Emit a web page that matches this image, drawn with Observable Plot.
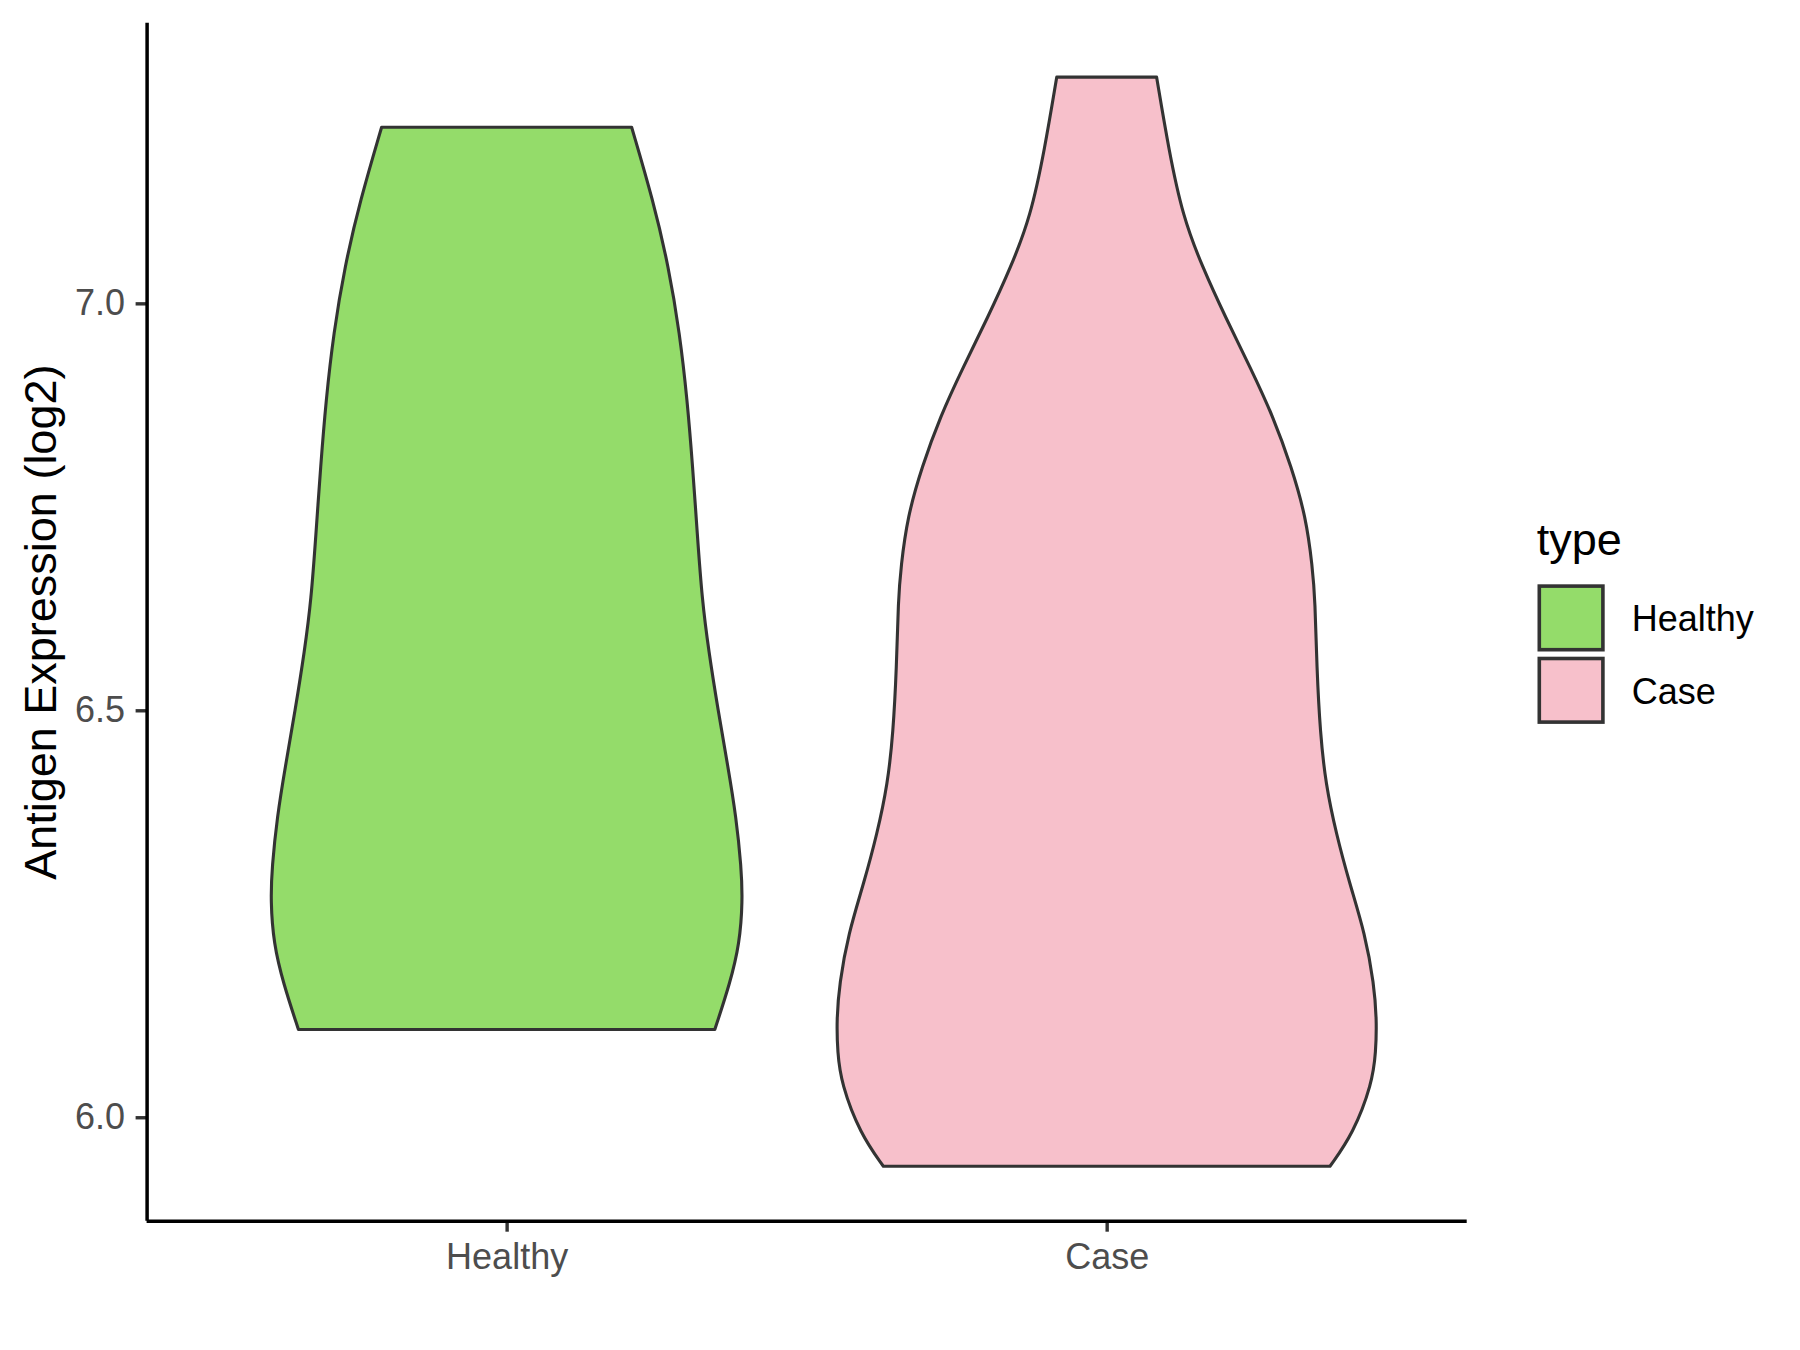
<!DOCTYPE html>
<html>
<head>
<meta charset="utf-8">
<script src="https://cdn.jsdelivr.net/npm/d3@7"></script>
<script src="https://cdn.jsdelivr.net/npm/@observablehq/plot@0.6"></script>
<style>
  body { margin: 0; background: #ffffff; }
  #chart { position: relative; width: 1800px; height: 1350px; font-family: "Liberation Sans", Arial, sans-serif; }
  #legend { position: absolute; left: 1520px; top: 500px; }
</style>
</head>
<body>
<div id="chart"></div>
<script>
// Groups and their fill colours
const types = ["Healthy", "Case"];
const fills = ["#94DC6A", "#F7C0CB"];

// Violin outlines: expression values (log2) and scaled density (1 = widest violin)
const healthyValues  = [7.2164, 7.127, 7.045, 6.9631, 6.8811, 6.7991, 6.7172, 6.6352, 6.5737, 6.5, 6.4302, 6.3688, 6.3073, 6.2663, 6.2135, 6.1643, 6.1078];
const healthyDensity = [0.463, 0.542, 0.600, 0.641, 0.669, 0.689, 0.706, 0.724, 0.748, 0.783, 0.820, 0.850, 0.869, 0.874, 0.863, 0.827, 0.771];

const caseValues  = [7.2779, 7.1885, 7.1065, 7.045, 6.9835, 6.922, 6.8606, 6.7991, 6.7376, 6.6762, 6.6352, 6.5532, 6.4713, 6.4098, 6.3483, 6.2869, 6.2254, 6.1639, 6.12, 6.08, 6.0414, 5.9799, 5.9398];
const caseDensity = [0.185, 0.230, 0.282, 0.354, 0.439, 0.531, 0.617, 0.684, 0.738, 0.762, 0.772, 0.778, 0.791, 0.811, 0.850, 0.900, 0.957, 0.990, 1.000, 0.997, 0.983, 0.913, 0.827];

// Axis ticks
const yTicks = [6.0, 6.5, 7.0];

// Long table for the area marks
const series = [[healthyValues, healthyDensity], [caseValues, caseDensity]];
const rows = [];
series.forEach(([vals, dens], i) => {
  vals.forEach((v, j) => rows.push({type: types[i], idx: i, value: v, density: dens[j]}));
});

// Continuous y range padded by 5% on each side; discrete x padded by 0.6
const allValues = rows.map(d => d.value);
const lo = d3.min(allValues), hi = d3.max(allValues);
const pad = (hi - lo) * 0.05;
const yDomain = [lo - pad, hi + pad];
const xDomain = [-0.6, types.length - 1 + 0.6];
const halfWidth = 0.45;

const font = "'Liberation Sans', Arial, sans-serif";

const plot = Plot.plot({
  width: 1800,
  height: 1350,
  marginLeft: 146.6,
  marginRight: 333.3,
  marginTop: 22.7,
  marginBottom: 129.3,
  style: {fontFamily: font, background: "#ffffff"},
  x: {domain: xDomain, axis: null},
  y: {domain: yDomain, axis: null},
  color: {domain: types, range: fills},
  marks: [
    Plot.areaX(rows, {
      y: "value",
      x1: d => d.idx - halfWidth * d.density,
      x2: d => d.idx + halfWidth * d.density,
      z: "type",
      fill: "type",
      stroke: "#333333",
      strokeWidth: 3.1,
      curve: "basis"
    }),
    Plot.axisY({
      ticks: yTicks,
      tickFormat: d3.format(".1f"),
      tickSize: 11,
      tickPadding: 11,
      fontSize: 36,
      stroke: "#333333",
      strokeWidth: 3.4,
      fill: "#4d4d4d",
      label: null
    }),
    Plot.axisX({
      ticks: d3.range(types.length),
      tickFormat: i => types[i],
      tickSize: 11,
      tickPadding: 11,
      fontSize: 36,
      stroke: "#333333",
      strokeWidth: 3.4,
      fill: "#4d4d4d",
      label: null
    }),
    Plot.ruleX([xDomain[0]], {stroke: "#000000", strokeWidth: 3.5}),
    Plot.ruleY([yDomain[0]], {stroke: "#000000", strokeWidth: 3.5}),
    Plot.text(["Antigen Expression (log2)"], {
      frameAnchor: "left",
      textAnchor: "middle",
      text: d => d,
      rotate: -90,
      dx: -105.5,
      fontSize: 45,
      fill: "#000000"
    })
  ]
});

const chart = document.getElementById("chart");
chart.appendChild(plot);

// Legend: fill keys with outlined swatches
const legend = d3.create("svg")
  .attr("id", "legend")
  .attr("width", 260)
  .attr("height", 250)
  .style("font-family", font);

legend.append("text")
  .attr("x", 16.8)
  .attr("y", 55)
  .attr("font-size", 45)
  .attr("fill", "#000000")
  .text("type");

const keySize = 63.6, keyStep = 72.4, keyTop = 86.1;
const key = legend.selectAll("g.key")
  .data(types)
  .join("g")
  .attr("class", "key")
  .attr("transform", (d, i) => `translate(19.3,${keyTop + i * keyStep})`);

key.append("rect")
  .attr("width", keySize)
  .attr("height", keySize)
  .attr("fill", (d, i) => fills[i])
  .attr("stroke", "#333333")
  .attr("stroke-width", 3.6);

key.append("text")
  .attr("x", 92.4)
  .attr("y", keySize / 2 + 13.6)
  .attr("font-size", 36)
  .attr("fill", "#000000")
  .text(d => d);

chart.appendChild(legend.node());
</script>
</body>
</html>
